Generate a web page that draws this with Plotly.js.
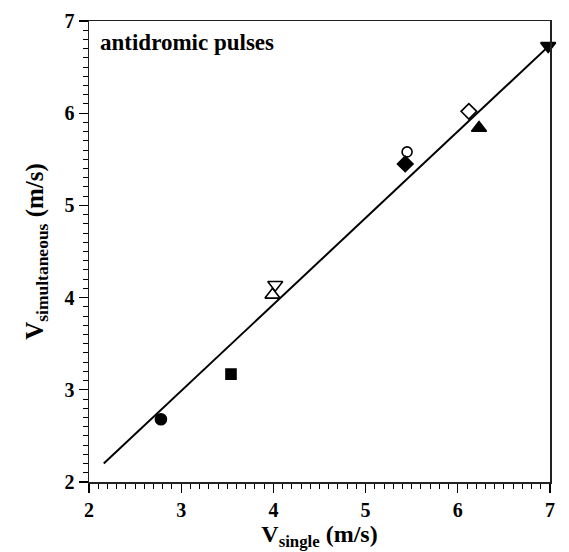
<!DOCTYPE html>
<html>
<head>
<meta charset="utf-8">
<script src="https://cdn.plot.ly/plotly-3.0.1.min.js"></script>
<style>
  html, body { margin: 0; padding: 0; background: #fff; }
  #chart { width: 569px; height: 552px; }
</style>
</head>
<body>
<div id="chart"></div>
<script>
// Conduction velocities: single pulse vs. simultaneous pulses (m/s)
const vSingle       = [2.78, 3.54, 3.99, 4.02, 5.45, 5.43, 6.12, 6.23, 6.98];
const vSimultaneous = [2.68, 3.17, 4.03, 4.14, 5.58, 5.45, 6.02, 5.84, 6.73];
const markerSymbols = ['circle', 'square', 'triangle-up-open', 'triangle-down-open',
                       'circle-open', 'diamond', 'diamond-open', 'triangle-up', 'triangle-down'];
const markerSizes   = [11, 10, 13, 13, 10, 12, 12, 13, 13];

// Linear fit drawn across the data range
const fitX = [2.16, 7.0];
const fitY = [2.20, 6.74];

const tickVals = [2, 3, 4, 5, 6, 7];
const tickText = ['2', '3', '4', '5', '6', '7'];

const serif = 'Liberation Serif';

const traces = [
  {
    x: fitX, y: fitY, mode: 'lines', type: 'scatter',
    line: { color: '#000', width: 2 },
    hoverinfo: 'skip', showlegend: false
  },
  {
    x: vSingle, y: vSimultaneous, mode: 'markers', type: 'scatter',
    opacity: 1, cliponaxis: false,
    marker: {
      symbol: markerSymbols, size: markerSizes, color: '#000', opacity: 1,
      line: { color: '#000', width: 1.6 }
    },
    showlegend: false
  }
];

const axisCommon = {
  range: [2, 7],
  tickmode: 'array',
  tickvals: tickVals,
  ticktext: tickText,
  ticks: 'outside',
  ticklen: 9,
  tickwidth: 1.2,
  tickcolor: '#000',
  showline: true,
  linecolor: '#222',
  linewidth: 1.5,
  mirror: true,
  showgrid: false,
  zeroline: false,
  tickfont: { family: serif, size: 20, color: '#000', weight: 'bold' },
  minor: { dtick: 0.1, ticks: 'outside', ticklen: 5, tickwidth: 1, tickcolor: '#000', showgrid: false }
};

const layout = {
  width: 569, height: 552,
  margin: { l: 89, r: 19, t: 21, b: 70 },
  paper_bgcolor: '#fff', plot_bgcolor: '#fff',
  font: { family: serif, color: '#000' },
  xaxis: Object.assign({}, axisCommon, {
    title: { text: 'V<sub>single</sub> (m/s)', standoff: 5,
             font: { family: serif, size: 24, color: '#000', weight: 'bold' } }
  }),
  yaxis: Object.assign({}, axisCommon, {
    title: { text: 'V<sub>simultaneous</sub> (m/s)', standoff: 14,
             font: { family: serif, size: 25, color: '#000', weight: 'bold' } }
  }),
  annotations: [{
    text: 'antidromic pulses', xref: 'paper', yref: 'paper',
    x: 0.02, y: 0.985, xanchor: 'left', yanchor: 'top', showarrow: false,
    font: { family: serif, size: 23, color: '#000', weight: 'bold' }
  }]
};

Plotly.newPlot('chart', traces, layout, { staticPlot: true, displayModeBar: false });
</script>
</body>
</html>
